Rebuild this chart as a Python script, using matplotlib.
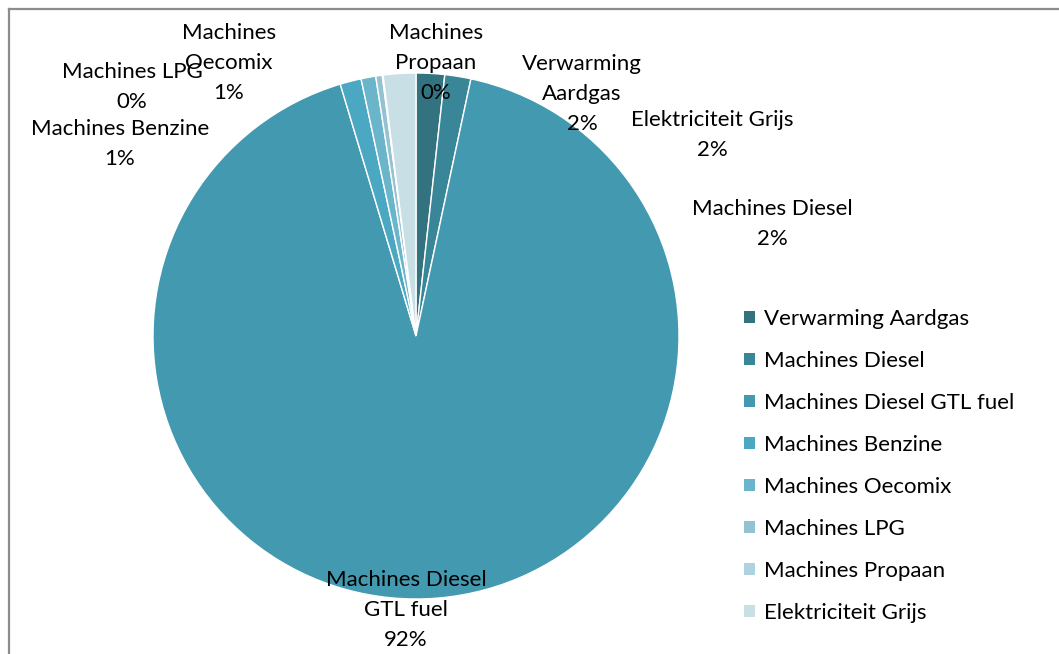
import matplotlib.pyplot as plt
from matplotlib.patches import Patch

# Energy use shares (percent), clockwise from 12 o'clock
categories = ["Verwarming Aardgas", "Machines Diesel", "Machines Diesel GTL fuel",
              "Machines Benzine", "Machines Oecomix", "Machines LPG",
              "Machines Propaan", "Elektriciteit Grijs"]
shares = [1.75, 1.6, 92.0, 1.3, 0.9, 0.4, 0.05, 2.0]
shown_pct = ["2%", "2%", "92%", "1%", "1%", "0%", "0%", "2%"]
label_names = ["Verwarming\nAardgas", "Machines Diesel", "Machines Diesel\nGTL fuel",
               "Machines Benzine", "Machines\nOecomix", "Machines LPG",
               "Machines\nPropaan", "Elektriciteit Grijs"]

colors = ["#33727f", "#3a8699", "#4399b0", "#4aa8c2", "#6bb5cb",
          "#93c2d3", "#aed2de", "#c8dfe6"]

# label block centres in pixel coords (x, y from top) - layout only
label_pos = [(582, 94), (772, 224), (406, 610), (120, 144),
             (229, 63), (132, 87), (436, 63), (712, 135)]

W, H = 1059, 654
plt.rcParams['font.family'] = ['Lato', 'DejaVu Sans']

fig = plt.figure(figsize=(W / 100, H / 100), dpi=100)
ax = fig.add_axes([0, 0, 1, 1])

wedges, _ = ax.pie(shares, colors=colors, startangle=90, counterclock=False,
                   center=(416, H - 336), radius=263, frame=True,
                   wedgeprops=dict(edgecolor='white', linewidth=1))
ax.set_xlim(0, W)
ax.set_ylim(0, H)
ax.set_aspect('equal')
ax.axis('off')

for name, pct, (x, y) in zip(label_names, shown_pct, label_pos):
    ax.text(x, H - y, f"{name}\n{pct}", ha='center', va='center',
            fontsize=16, linespacing=1.6, color='black')

# chart frame (top and left edges visible)
ax.plot([8.5, W], [H - 8.5, H - 8.5], color='#8c8c8c', lw=1.6, clip_on=False)
ax.plot([8.5, 8.5], [0, H - 8.5], color='#8c8c8c', lw=1.6, clip_on=False)

handles = [Patch(facecolor=c, edgecolor='none') for c in colors]
ax.legend(handles, categories, loc='upper left', bbox_to_anchor=(744, H - 309),
          bbox_transform=ax.transData, frameon=False, fontsize=16,
          borderpad=0, borderaxespad=0, handlelength=0.5, handleheight=0.5,
          handletextpad=0.4, labelspacing=0.99)

fig.savefig("out.png", dpi=100)
